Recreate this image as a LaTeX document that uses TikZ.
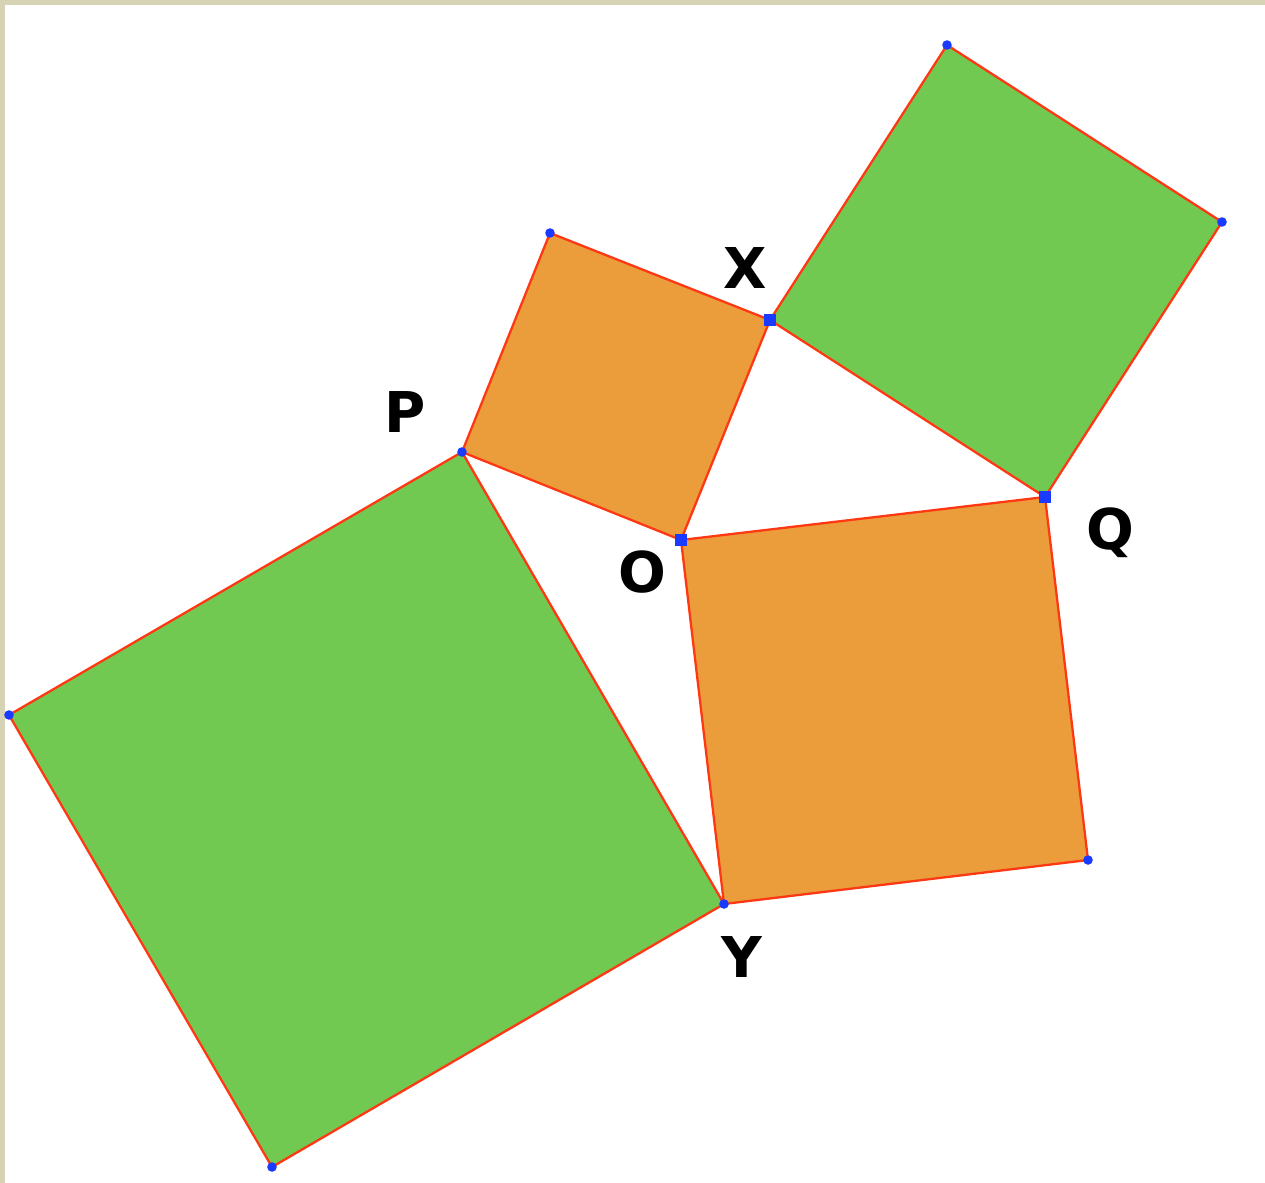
\documentclass[tikz,border=0pt]{standalone}
\usepackage{fontspec}
\setmainfont{DejaVu Sans}
\usetikzlibrary{calc}
\definecolor{sqgreen}{HTML}{72C952}
\definecolor{sqorange}{HTML}{EA9D3A}
\definecolor{edgered}{HTML}{FF3814}
\definecolor{ptblue}{HTML}{1A3BFF}
\definecolor{frame}{HTML}{D5D3B3}
\tikzset{
  greensq/.style={fill=sqgreen,draw=edgered,line width=1.3pt,line join=round},
  orangesq/.style={fill=sqorange,draw=edgered,line width=1.3pt,line join=round},
  dotpt/.style={fill=ptblue,draw=none},
  lbl/.style={font=\fontsize{32}{38}\selectfont\bfseries,text=black,inner sep=0pt}
}
\begin{document}
\begin{tikzpicture}[x=0.02cm,y=-0.02cm]
\useasboundingbox (0,0) rectangle (1265,1183);
\fill[frame] (0,0) rectangle (1265,1183);
\fill[white] (5,5) rectangle (1265,1183);
% vertices
\coordinate (P) at (462,452);
\coordinate (O) at (681,540);
\coordinate (X) at (770,320);
\coordinate (A1) at (550,233);
\coordinate (Q) at (1045,497);
\coordinate (B1) at (947,45);
\coordinate (B2) at (1222,222);
\coordinate (C1) at (1088,860);
\coordinate (Y) at (724,904);
\coordinate (D1) at (272,1167);
\coordinate (D2) at (9,715);
% squares
\draw[greensq] (P) -- (Y) -- (D1) -- (D2) -- cycle;
\draw[orangesq] (P) -- (A1) -- (X) -- (O) -- cycle;
\draw[greensq] (X) -- (B1) -- (B2) -- (Q) -- cycle;
\draw[orangesq] (O) -- (Q) -- (C1) -- (Y) -- cycle;
% points
\foreach \p in {P,Y,A1,B1,B2,C1,D1,D2} \fill[dotpt] (\p) circle (4.8);
\foreach \p in {X,O,Q} \fill[dotpt] ($(\p)+(-6,-6)$) rectangle ($(\p)+(6,6)$);
% labels
\node[lbl] (lX) at (745,268) {X};
\node[lbl] (lP) at (405,412) {P};
\node[lbl] (lO) at (642,572) {O};
\node[lbl] (lQ) at (1110,533) {Q};
\node[lbl] (lY) at (742,957) {Y};
\end{tikzpicture}
\end{document}
